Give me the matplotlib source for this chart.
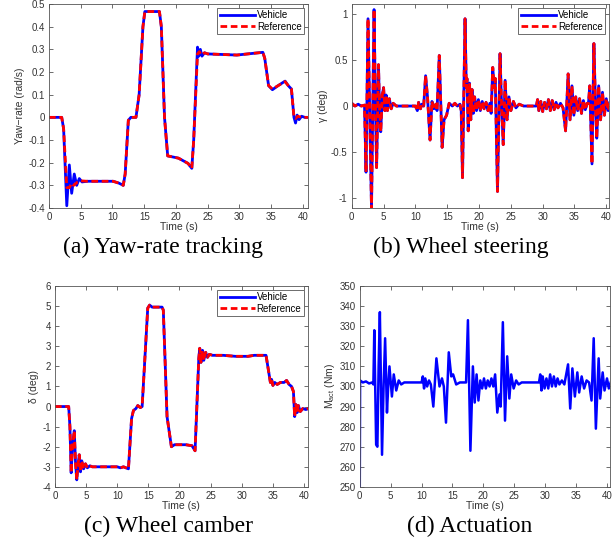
import matplotlib
matplotlib.use("Agg")
import matplotlib.pyplot as plt
from matplotlib.ticker import FuncFormatter
import numpy as np

plt.rcParams['font.family'] = ['Liberation Sans', 'DejaVu Sans']
plt.rcParams['mathtext.fontset'] = 'custom'
plt.rcParams['mathtext.rm'] = 'Liberation Sans'
plt.rcParams['axes.unicode_minus'] = False

# (a) yaw-rate tracking
t_yaw_veh = [0, 2.0, 2.3, 2.8, 3.2, 3.57, 3.98, 4.36, 4.77, 5.2, 6.0, 10.1, 11.0, 11.7,
             12.0, 12.5, 12.9, 13.7, 14.2, 14.8, 15.1, 17.4, 17.7, 18.2, 18.7, 20.4, 21.9,
             22.5, 22.8, 23.4, 23.6, 23.85, 24.1, 24.5, 25.0, 29.6, 33.7, 34.0, 34.6, 35.2,
             36.1, 37.2, 37.7, 38.2, 38.6, 38.85, 39.1, 39.4, 39.8, 40.3, 41.0]
yaw_veh = [0, 0, -0.05, -0.39, -0.21, -0.335, -0.25, -0.30, -0.27, -0.285, -0.282, -0.282,
           -0.29, -0.30, -0.25, -0.013, 0.0, 0.0, 0.1, 0.40, 0.467, 0.467, 0.40, 0.0, -0.17,
           -0.18, -0.203, -0.225, -0.1, 0.31, 0.27, 0.30, 0.27, 0.285, 0.28, 0.275, 0.287,
           0.26, 0.14, 0.122, 0.14, 0.16, 0.14, 0.125, 0.0, -0.025, 0.01, -0.01, 0.005, 0.0, 0.0]
t_yaw_ref = [0, 2.0, 2.3, 2.8, 3.2, 3.6, 3.9, 4.5, 5.0, 6.0, 10.1, 11.0, 11.7, 12.0, 12.5,
             12.9, 13.7, 14.2, 14.8, 15.1, 17.4, 17.7, 18.2, 18.7, 20.4, 21.9, 22.5, 22.8,
             23.4, 23.7, 24.0, 24.5, 25.0, 29.6, 33.7, 34.0, 34.6, 35.2, 36.1, 37.2, 37.7,
             38.2, 38.6, 38.85, 39.2, 39.8, 41.0]
yaw_ref = [0, 0, -0.05, -0.31, -0.31, -0.29, -0.30, -0.285, -0.28, -0.282, -0.282, -0.29,
           -0.30, -0.25, -0.013, 0.0, 0.0, 0.1, 0.40, 0.467, 0.467, 0.40, 0.0, -0.17, -0.18,
           -0.203, -0.225, -0.1, 0.28, 0.29, 0.275, 0.285, 0.28, 0.275, 0.287, 0.26, 0.14,
           0.125, 0.14, 0.158, 0.14, 0.125, 0.0, -0.005, 0.005, 0.0, 0.0]

# (b) wheel steering
t_gam = [0, 0.5, 1.0, 1.5, 2.0, 2.24, 2.55, 3.1, 3.5, 3.7, 3.9, 4.2, 4.35, 4.55, 4.8, 5.0,
         5.2, 5.4, 5.6, 5.9, 6.2, 6.5, 7.0, 10.0, 10.3, 10.5, 10.8, 11.0, 11.3, 11.6, 11.9,
         12.3, 12.6, 12.9, 13.2, 13.4, 13.75, 14.2, 14.5, 14.9, 15.3, 15.8, 16.2, 16.6,
         17.0, 17.2, 17.4, 17.8, 18.0, 18.1, 18.3, 18.5, 18.7, 18.9, 19.1, 19.3, 19.6,
         19.9, 20.2, 20.5, 20.8, 21.1, 21.4, 21.7, 21.9, 22.15, 22.4, 22.55, 22.9, 23.3,
         23.5, 23.8, 24.1, 24.4, 24.7, 25.0, 25.4, 25.8, 26.3, 27.0, 29.0, 29.2, 29.4,
         29.7, 30.0, 30.3, 30.6, 30.9, 31.2, 31.5, 31.8, 32.1, 32.4, 32.8, 33.2, 33.6,
         34.0, 34.3, 34.6, 34.9, 35.2, 35.5, 35.8, 36.1, 36.4, 36.7, 37.0, 37.2, 37.4,
         37.75, 38.05, 38.3, 38.5, 38.8, 39.1, 39.4, 39.7, 40.0, 40.3, 40.6, 41.0]
gam = [0.03, 0.0, 0.02, 0.0, 0.01, -0.72, 0.95, -1.12, 1.05, 0.1, -0.67, 0.45, 0.0, -0.28,
       0.12, 0.2, -0.05, 0.12, -0.05, 0.08, -0.03, 0.03, 0.0, 0.0, -0.05, 0.04, -0.03, 0.02,
       0.0, 0.33, 0.1, -0.37, 0.05, -0.03, 0.02, -0.05, 0.55, -0.45, -0.15, -0.1, 0.03,
       0.0, 0.03, 0.0, 0.02, -0.05, -0.78, 0.95, 0.2, 0.3, -0.27, 0.25, -0.15, 0.18, -0.08,
       0.1, -0.05, 0.07, -0.05, 0.05, -0.03, 0.04, -0.05, 0.03, -0.08, 0.42, 0.2, 0.3,
       -0.93, 0.57, 0.1, -0.42, 0.28, -0.15, 0.1, -0.05, 0.05, -0.02, 0.02, 0.0, 0.0,
       0.07, -0.05, 0.05, -0.06, 0.04, -0.03, 0.07, -0.05, 0.06, -0.04, 0.04, -0.02, 0.03,
       -0.02, -0.27, 0.35, -0.15, 0.22, -0.1, 0.1, -0.05, 0.08, -0.08, 0.06, -0.04, 0.03,
       0.03, 0.22, -0.63, 0.68, 0.0, -0.35, 0.22, -0.15, 0.15, -0.1, 0.08, -0.05, 0.05, 0.0]

# (c) wheel camber
t_del = [0, 2.2, 2.4, 2.6, 2.8, 3.1, 3.3, 3.5, 3.7, 3.9, 4.1, 4.3, 4.6, 4.9, 5.2, 5.6, 6.0,
         10.0, 10.5, 11.0, 11.8, 12.3, 12.6, 13.0, 13.3, 13.7, 14.0, 14.9, 15.2, 15.6, 16.2,
         17.2, 17.4, 18.0, 18.7, 19.2, 20.0, 21.0, 22.0, 22.5, 23.1, 23.25, 23.45, 23.7,
         23.9, 24.2, 24.5, 24.8, 25.3, 27.0, 29.0, 31.0, 32.0, 33.9, 34.6, 34.8, 35.0,
         35.3, 35.7, 36.2, 36.8, 37.2, 37.6, 38.0, 38.3, 38.5, 38.7, 38.9, 39.1, 39.4,
         39.8, 40.3, 41.0]
dlt = [0, 0, -1.0, -3.3, -2.0, -1.2, -2.8, -3.65, -2.9, -2.4, -3.25, -2.7, -3.1, -2.85,
       -3.05, -2.95, -3.0, -3.0, -3.05, -3.0, -3.1, -0.6, -0.2, -0.1, 0.05, -0.05, 0.0, 4.9,
       5.05, 4.95, 4.95, 4.95, 4.8, -0.5, -2.0, -1.9, -1.9, -1.9, -1.95, -2.2, 2.4, 2.9,
       2.2, 2.8, 2.3, 2.7, 2.45, 2.6, 2.55, 2.55, 2.5, 2.5, 2.55, 2.55, 1.2, 1.35, 1.05,
       1.2, 1.1, 1.2, 1.2, 1.3, 1.1, 1.0, 0.75, -0.5, 0.1, -0.3, 0.05, -0.25, -0.1, -0.15,
       -0.05]

# (d) actuation
t_act = [0, 0.05, 0.5, 1.0, 1.5, 2.0, 2.2, 2.35, 2.65, 2.85, 3.05, 3.25, 3.6, 3.85, 4.1,
         4.4, 4.6, 4.8, 5.2, 5.5, 5.9, 6.3, 6.7, 7.2, 10.0, 10.2, 10.4, 10.6, 10.9, 11.2,
         11.5, 11.9, 12.4, 12.9, 13.3, 13.6, 13.95, 14.4, 14.8, 15.1, 15.6, 16.2, 17.2,
         17.5, 17.9, 18.3, 18.6, 18.9, 19.2, 19.5, 19.8, 20.1, 20.4, 20.7, 21.0, 21.3,
         21.6, 21.9, 22.25, 22.6, 22.8, 23.15, 23.5, 23.85, 24.2, 24.5, 24.9, 25.3, 25.7,
         26.2, 29.0, 29.2, 29.4, 29.6, 29.9, 30.2, 30.5, 30.8, 31.1, 31.4, 31.7, 32.0,
         32.3, 32.7, 33.1, 33.7, 34.05, 34.4, 34.8, 35.2, 35.5, 35.9, 36.3, 36.7, 37.1,
         37.5, 37.85, 38.2, 38.65, 38.9, 39.3, 39.6, 40.0, 40.3, 40.6]
act = [250, 303, 302, 302.5, 301.5, 302, 301, 328, 271, 270, 310, 337, 266, 300, 324, 287,
       300, 310, 295, 306, 298, 303, 301, 302, 302, 305, 299, 304, 300, 303, 301, 290, 314,
       300, 304, 300, 282, 317, 305, 306, 301, 302, 302, 333, 268, 310, 292, 306, 293, 303,
       299, 304, 299, 303, 300, 304, 300, 306, 287, 296, 290, 332, 283, 315, 294, 306, 299,
       303, 301, 302, 302, 306, 298, 305, 299, 304, 299, 306, 300, 305, 300, 304, 301, 303,
       301, 311, 289, 309, 295, 307, 297, 305, 299, 303, 302, 293, 324, 279, 314, 294, 307,
       298, 304, 299, 302]

xticks = [0, 5, 10, 15, 20, 25, 30, 35, 40]
blue = (0, 0, 1)
red = (1, 0, 0)
lw = 2.0
dash = (0, (2.4, 1.3))


def fmt(v, pos):
    return '%g' % (round(v, 6) + 0.0)


def style(ax, ylim, yticks, ylabel, xlim=40.6):
    ax.set_xlim(0, xlim)
    ax.set_ylim(*ylim)
    ax.set_xticks(xticks)
    ax.set_yticks(yticks)
    ax.yaxis.set_major_formatter(FuncFormatter(fmt))
    ax.tick_params(direction='in', top=True, right=True, length=3, width=0.5,
                   labelsize=7, colors='#333333', pad=3)
    for s in ax.spines.values():
        s.set_linewidth(0.6)
        s.set_color('#555555')
    ax.set_xlabel('Time (s)', fontsize=7.5, color='#333333', labelpad=0)
    ax.set_ylabel(ylabel, fontsize=7.5, color='#333333', labelpad=2)


def legend(ax):
    leg = ax.legend(loc='upper right', fontsize=7, handlelength=3.6, handletextpad=0.2,
                    borderpad=0.25, labelspacing=0.15, fancybox=False, framealpha=1,
                    edgecolor='#555555', borderaxespad=0.4)
    leg.get_frame().set_linewidth(0.6)


fig = plt.figure(figsize=(6.15, 5.41), dpi=100)

ax1 = fig.add_axes([0.0797, 0.6155, 0.421, 0.377])
ax1.plot(t_yaw_veh, yaw_veh, color=blue, lw=lw, label='Vehicle')
ax1.plot(t_yaw_ref, yaw_ref, color=red, lw=lw, ls=dash, label='Reference')
style(ax1, (-0.4, 0.5), np.round(np.arange(-0.4, 0.51, 0.1), 1), 'Yaw\u2212rate (rad/s)', 40.8)
legend(ax1)

ax2 = fig.add_axes([0.572, 0.6155, 0.418, 0.377])
ax2.plot(t_gam, gam, color=blue, lw=lw, label='Vehicle')
ax2.plot(t_gam, gam, color=red, lw=lw, ls=dash, label='Reference')
style(ax2, (-1.11, 1.11), [-1, -0.5, 0, 0.5, 1], '\u03b3 (deg)', 40.4)
legend(ax2)

ax3 = fig.add_axes([0.0894, 0.1, 0.411, 0.3713])
ax3.plot(t_del, dlt, color=blue, lw=lw, label='Vehicle')
ax3.plot(t_del, dlt, color=red, lw=lw, ls=dash, label='Reference')
style(ax3, (-4, 6), list(range(-4, 7)), '\u03b4 (deg)', 40.6)
legend(ax3)

ax4 = fig.add_axes([0.585, 0.1, 0.4065, 0.3713])
ax4.plot(t_act, act, color=blue, lw=1.8)
style(ax4, (250, 350), list(range(250, 351, 10)), r'$\mathrm{M_{act}}$ (Nm)', 40.45)

cap = dict(family=['Liberation Serif', 'DejaVu Serif'], fontsize=17, ha='center',
           va='center')
fig.text(163 / 615, 1 - 247 / 541, '(a) Yaw-rate tracking', **cap)
fig.text(461 / 615, 1 - 247 / 541, '(b) Wheel steering', **cap)
fig.text(168 / 615, 1 - 526 / 541, '(c) Wheel camber', **cap)
fig.text(470 / 615, 1 - 526 / 541, '(d) Actuation', **cap)

fig.savefig('out.png', dpi=100)
